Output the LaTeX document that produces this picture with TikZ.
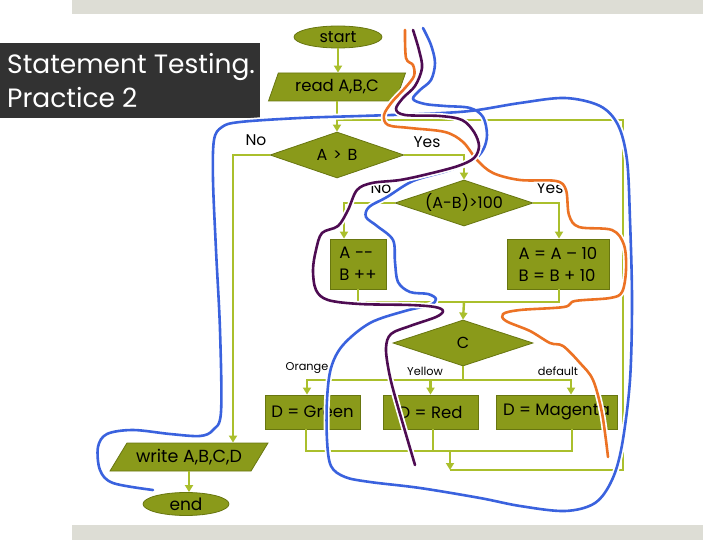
\documentclass[tikz,border=0pt]{standalone}
\usepackage{fontspec}
\setmainfont{Poppins}
\usetikzlibrary{shapes.geometric,arrows.meta}
\definecolor{nfill}{RGB}{138,154,26}
\definecolor{nborder}{RGB}{104,118,16}
\definecolor{conn}{RGB}{170,191,44}
\definecolor{titlebg}{RGB}{50,50,50}
\definecolor{barbg}{RGB}{221,221,213}
\definecolor{pblue}{RGB}{58,98,222}
\definecolor{ppurple}{RGB}{78,12,82}
\definecolor{porange}{RGB}{236,114,36}
\tikzset{
  shp/.style={draw=nborder, fill=nfill, line width=0.8pt, inner sep=0pt},
  box/.style={shp, rectangle, font=\fontsize{16.5}{22}\selectfont},
  dia/.style={shp, diamond, aspect=3.2, font=\fontsize{16}{18}\selectfont},
  term/.style={shp, ellipse, font=\fontsize{16}{18}\selectfont},
  io/.style={shp, trapezium, trapezium stretches body=true, font=\fontsize{16.5}{18}\selectfont},
  flow/.style={draw=conn, line width=2.4pt},
  arr/.style={flow, -{Triangle[width=8pt,length=7pt]}},
  lbl/.style={font=\fontsize{15.5}{17}\selectfont, inner sep=0pt},
  small/.style={font=\fontsize{11.3}{13}\selectfont, inner sep=0pt},
  pen/.style={line width=2.6pt, line cap=round, line join=round},
  halo/.style={draw=white, line width=6pt, line cap=round, line join=round},
}
\begin{document}
\begin{tikzpicture}[x=1pt,y=-1pt]
\useasboundingbox (0,0) rectangle (720,540);
% frame bars
\fill[barbg] (72,0) rectangle (703,14);
\fill[barbg] (72,525) rectangle (703,540);
% title
\fill[titlebg] (0,43) rectangle (260,118);
\node[anchor=base west, text=white, inner sep=0pt, font=\fontsize{26.5}{30}\selectfont] (t1) at (7,74) {Statement Testing.};
\node[anchor=base west, text=white, inner sep=0pt, font=\fontsize{26.5}{30}\selectfont] (t2) at (7,108) {Practice 2};

% nodes
\node[term, minimum width=88pt, minimum height=22pt] (start) at (338,37) {start};
\node[io, trapezium left angle=56, trapezium right angle=124, minimum width=137pt, minimum height=28pt] (read) at (337,87) {read A,B,C};
\node[dia, minimum width=134pt, minimum height=46pt] (ab) at (337,155) {A\hspace{1.5pt} > \hspace{1.5pt}B};
\node[dia, minimum width=138pt, minimum height=46pt] (ab100) at (464,203) {(A-B)>100};
\node[box, minimum width=56pt, minimum height=50pt, align=left] (boxl) at (358,264) {A -{}-\\B ++};
\node[box, minimum width=102pt, minimum height=50pt, align=left] (boxr) at (558,264) {A = A – 10\\B = B + 10};
\node[dia, minimum width=140pt, minimum height=46pt] (c) at (463,343) {C};
\node[box, minimum width=95pt, minimum height=34pt] (green) at (312.5,412) {D = Green};
\node[box, minimum width=95pt, minimum height=34pt] (red) at (430.5,412) {D = Red};
\node[box, minimum width=121pt, minimum height=34pt] (mag) at (556.5,412) {D = Magenta};
\node[io, trapezium left angle=43, trapezium right angle=137, minimum width=158pt, minimum height=28pt, font=\fontsize{17.5}{19}\selectfont] (write) at (189,457) {write A,B,C,D};
\node[term, minimum width=86pt, minimum height=23pt, font=\fontsize{17}{19}\selectfont] (end) at (186,504) {end};

% labels
\node[lbl] (no1) at (256,140) {No};
\node[lbl] (yes1) at (427,142) {Yes};
\node[lbl] (no2) at (381,188) {No};
\node[lbl] (yes2) at (550,188) {Yes};
\node[small] (lo) at (307,368) {Orange};
\node[small] (ly) at (425,371) {Yellow};
\node[small] (ld) at (558,371) {default};

% connectors
\draw[arr] (start.south) -- (start.south |- read.north);
\draw[arr] (ab.north |- read.south) -- (ab.north);
\draw[arr] (ab.west) -| ([xshift=44pt]write.north);
\draw[arr] (ab.east) -| (ab100.north);
\draw[arr] (ab100.west) -| ([xshift=-14pt]boxl.north);
\draw[arr] (ab100.east) -| ([xshift=1pt]boxr.north);
\coordinate (j1) at (464,302);
\draw[flow] (boxl.south) |- (j1) -| ([xshift=1pt]boxr.south);
\draw[arr] (j1) -- (c.north);
\coordinate (j2) at (463,380);
\draw[flow] (c.south) -- (j2);
\draw[arr] (j2) -| ([xshift=-5.5pt]green.north);
\draw[arr] (j2) -| (red.north);
\draw[arr] (j2) -| ([xshift=14.5pt]mag.north);
\coordinate (j3) at (450,451);
\draw[flow] ([xshift=-6.5pt]green.south) |- (j3) -| ([xshift=15.5pt]mag.south);
\draw[flow] ([xshift=2.5pt]red.south) |- (j3);
\coordinate (j4) at (450,470);
\coordinate (c1) at (623,470);
\coordinate (c2) at (623,120);
\coordinate (c3) at (337,120);
\draw[flow] (j4) -- (c1) -- (c2) -- (c3);
\draw[arr] (j3) -- (j4);
\draw[arr] (write.south) -- (write.south |- end.north);

% freehand pens
\def\bluepath{(153,490) (113,483) (100,470) (98,447) (107,434) (133,430) (170,434) (200,436) (213,430) (221,412) (220,330) (216,250) (213,180) (214,140) (222,127) (240,122) (300,118) (360,116) (420,114) (470,111) (520,103) (565,98) (600,106) (618,125) (627,160) (630,220) (632,300) (630,380) (622,445) (612,480) (595,503) (565,511) (520,506) (480,498) (420,488) (370,482) (345,477) (331,466) (327,440) (327,400) (331,368) (343,345) (370,323) (405,311) (430,305) (436,299) (428,294) (410,292) (398,282) (395,262) (393,240) (377,226) (366,217) (369,207) (387,197) (413,181) (447,171) (472,161) (483,150) (487,135) (483,117) (470,108) (445,106) (425,104) (413,99) (420,90) (431,80) (435,63) (431,45) (423,28)}
\def\purplepath{(413,30) (419,50) (422,68) (415,86) (403,98) (396,109) (405,115) (440,116) (462,120) (474,132) (479,146) (474,158) (458,166) (428,174) (400,180) (372,183) (357,190) (348,210) (338,226) (322,233) (316,250) (313,270) (316,290) (328,300) (360,304) (410,305) (435,307) (443,311) (436,317) (410,326) (391,334) (386,348) (389,372) (396,400) (415,465)}
\def\orangepath{(405,30) (406,58) (413,65) (414,76) (405,88) (392,102) (384,115) (388,125) (410,128) (445,132) (463,142) (477,160) (493,173) (520,180) (556,181) (566,190) (569,215) (579,227) (612,230) (624,245) (626,270) (622,292) (610,298) (575,301) (564,307) (520,310) (503,314) (506,321) (530,331) (550,343) (563,346) (580,363) (593,380) (602,413) (608,457)}
\draw[halo] plot[smooth, tension=0.55] coordinates {\bluepath};
\draw[pen, pblue] plot[smooth, tension=0.55] coordinates {\bluepath};
\draw[halo] plot[smooth, tension=0.55] coordinates {\orangepath};
\draw[pen, porange] plot[smooth, tension=0.55] coordinates {\orangepath};
\draw[halo] plot[smooth, tension=0.55] coordinates {\purplepath};
\draw[pen, ppurple] plot[smooth, tension=0.55] coordinates {\purplepath};
\end{tikzpicture}
\end{document}
